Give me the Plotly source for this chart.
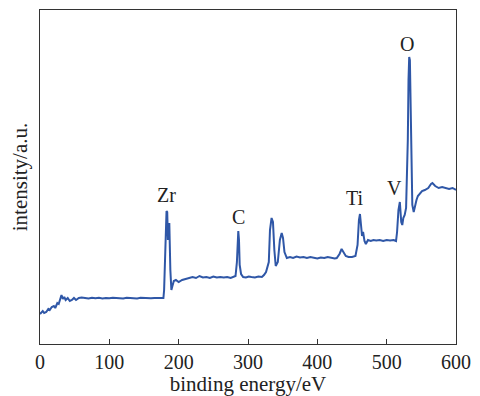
import plotly.graph_objects as go

# binding energy (eV) and intensity (arbitrary units)
energy = [0, 2, 4, 6, 9, 12, 14, 17, 20, 22, 25, 27, 29, 31, 33, 35, 37, 40, 43, 46, 49, 52, 56, 60,
          65, 70, 75, 80, 85, 90, 95, 100, 105, 110, 115, 120, 125, 130, 135, 140, 145, 150, 155, 160,
          165, 170, 175, 178, 179, 180, 181, 182.5, 183.5, 184.5, 185.5, 186.5, 188, 189.5, 191, 193,
          196, 200, 205, 210, 215, 220, 225, 230, 235, 240, 245, 250, 255, 260, 265, 270, 275, 279,
          282, 284, 285, 286, 287, 288, 290, 293, 297, 301, 305, 310, 315, 320, 323, 326, 330, 331.7,
          334, 336, 338, 340, 343, 346, 348.6, 350.5, 352.6, 356, 360.6, 365, 370, 375, 380, 385, 390,
          395, 400, 405, 410, 415, 420, 425, 428, 432, 435, 438, 441, 445, 450, 455, 458, 460, 461.5,
          463, 464.5, 466, 468, 470, 473, 477, 481, 485, 490, 495, 500, 505, 510, 513.5, 515, 517, 519,
          521, 522.5, 524, 526, 528, 529.5, 530.5, 531.5, 532.5, 533.5, 534.5, 535.5, 537, 539, 541,
          543, 545, 548, 551, 555, 560, 564, 566, 570, 575, 580, 585, 590, 595, 600]
intensity = [30, 32, 33, 31, 32, 35, 34, 37, 38, 36, 41, 40, 44, 49, 45, 47, 44, 46, 43, 44, 46, 44, 46, 46.5,
             46, 45.5, 46.3, 45.8, 46.2, 45.6, 46, 45.7, 46.3, 45.9, 46.1, 45.5, 46.2, 45.8, 46, 45.6, 46.2, 45.9, 46.1, 45.7,
             46, 45.8, 46.2, 46, 54, 84, 104, 133, 132, 104, 118, 121, 74, 54, 58, 63,
             64, 62, 64, 65, 66, 67, 66, 68, 66.5, 67, 66, 67.5, 66.5, 67, 66.5, 67, 66, 67,
             68, 82, 109, 113, 104, 79, 70, 67, 66.5, 67.5, 67, 66.5, 67.5, 67, 69, 72, 82, 114,
             126, 122, 94, 78, 82, 104, 111, 106, 92, 86, 87, 86, 87.5, 86.5, 87, 86, 87,
             86.5, 85.5, 86.5, 86, 87, 86, 85.5, 86, 90, 95, 91, 88, 87, 87, 88, 99, 124, 130,
             119, 108, 112, 103, 100, 104, 103, 104, 103.5, 104, 103, 104, 103.5, 104, 103, 112, 134, 142,
             122, 119, 126, 129, 136, 174, 204, 264, 287, 284, 244, 174, 139, 132, 139,
             144, 148, 151, 153, 154, 156, 160, 161, 158, 156, 157, 156, 155, 156, 154]

peak_labels = ["Zr", "C", "Ti", "V", "O"]
peak_energy = [183, 287, 454, 512, 529.5]
peak_label_height = [149, 127, 146, 156, 300]

fig = go.Figure()
fig.add_trace(go.Scatter(x=energy, y=intensity, mode="lines",
                         line=dict(color="#2f57a7", width=2), showlegend=False))
for t, xe, ye in zip(peak_labels, peak_energy, peak_label_height):
    fig.add_annotation(x=xe, y=ye, text=t, showarrow=False,
                       font=dict(family="Liberation Serif", size=20, color="#222"))

fig.update_layout(
    width=472, height=388,
    margin=dict(l=32, r=24, t=2, b=52, autoexpand=False),
    paper_bgcolor="white", plot_bgcolor="white",
    font=dict(family="Liberation Serif", size=20, color="#222"),
    xaxis=dict(range=[0, 600], tickvals=[0, 100, 200, 300, 400, 500, 600],
               ticks="inside", ticklen=5, tickcolor="#333", showline=True, linecolor="#333",
               linewidth=1, mirror=True, showgrid=False, zeroline=False, automargin=False,
               tickfont=dict(size=20),
               title=dict(text="binding energy/eV", font=dict(size=21), standoff=0)),
    yaxis=dict(range=[0, 334], showticklabels=False, ticks="", showline=True, linecolor="#333",
               linewidth=1, mirror=True, showgrid=False, zeroline=False, automargin=False,
               title=dict(text="intensity/a.u.", font=dict(size=21), standoff=8)),
)
fig.write_html("out.html")
